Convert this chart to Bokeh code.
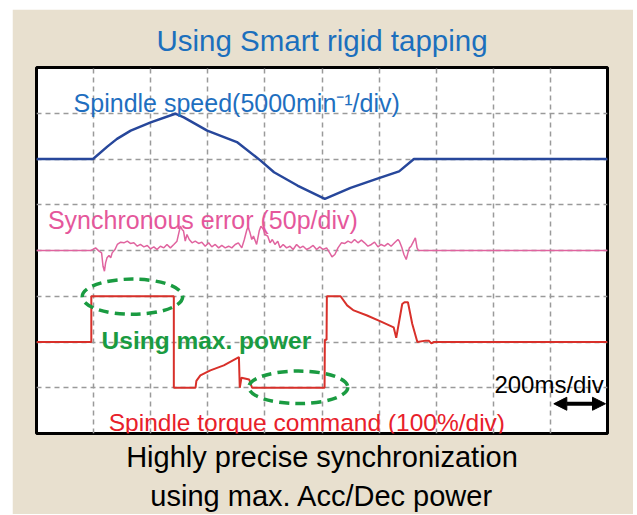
from bokeh.plotting import figure
from bokeh.models import Range1d, FixedTicker, Label, Arrow, NormalHead, Title
from bokeh.embed import file_html
from bokeh.resources import INLINE

# ---- data (time in ms, 200 ms/div) ----
speed_t = [0, 198, 248, 282, 330, 400, 486, 516, 598, 702, 784, 832, 914, 1010, 1100, 1194, 1270, 1322, 2000]
speed_v = [0, 0, 1350, 2200, 3100, 4000, 4950, 4550, 3100, 1850, -150, -1450, -2900, -4350, -3150, -2150, -1350, 0, 0]  # min^-1

err_t = [0, 190, 198, 207, 219, 228, 233, 238, 242, 247, 254, 260, 265, 275, 283, 295, 306, 318, 329, 341,
         353, 364, 376, 388, 399, 411, 422, 434, 446, 457, 469, 481, 492, 504, 510, 515, 521, 527, 535, 545,
         556, 568, 579, 591, 603, 614, 626, 638, 649, 661, 673, 684, 696, 707, 719, 728, 737, 742, 748, 754,
         760, 771, 780, 786, 795, 800, 810, 818, 826, 835, 845, 853, 864, 876, 888, 899, 911, 923, 934, 946,
         957, 969, 981, 992, 1004, 1016, 1027, 1035, 1045, 1056, 1068, 1080, 1091, 1103, 1114, 1126, 1138, 1149, 1161, 1173,
         1184, 1196, 1207, 1219, 1231, 1242, 1254, 1266, 1271, 1280, 1287, 1295, 1301, 1306, 1312, 1321, 1327, 1333, 1338, 2000]
err_v = [0, 0, 1.1, 2.9, -0.7, -2.6, -17.2, -22.6, -13.5, -8.0, -5.5, -8.0, -2.6, 1.1, 6.6, 9.1, 8.4, 10.2, 7.7, 8.4,
         4.7, 6.6, 4.0, 5.5, 1.8, 4.0, 1.1, 4.7, 2.9, 6.6, 2.9, 6.6, 10.2, 26.6, 23.0, 21.2, 10.2, 17.5, 12.0, 8.4,
         10.2, 7.7, 9.1, 4.7, 8.4, 4.0, 6.6, 2.9, 5.5, 2.9, 4.7, 2.9, 6.6, 8.4, 2.9, 12.0, 23.0, 24.8, 19.3, 12.0,
         15.7, 6.6, 21.2, 26.6, 23.0, 17.5, 15.7, 8.4, 12.0, 6.6, 10.2, 2.9, 6.6, 2.9, 4.7, 1.1, 6.6, 2.9, 4.7, 1.1,
         2.9, 5.5, 1.1, 4.0, 1.1, 2.9, -2.6, -6.9, -4.4, 2.9, 8.4, 7.7, 10.2, 8.4, 12.0, 8.4, 11.3, 8.4, 4.7, 6.6,
         9.1, 4.0, 6.6, 4.7, 7.7, 4.7, 8.4, 12.0, 10.2, 2.9, -4.4, -9.9, -2.6, 2.9, 4.7, 10.2, 13.9, 2.9, 0, 0]  # pulses

torque_t = [0, 192, 192, 481, 481, 557, 560, 574, 609, 656, 709, 712, 718, 745, 755, 1009, 1010, 1016, 1017, 1065,
            1088, 1111, 1158, 1205, 1251, 1260, 1281, 1289, 1301, 1316, 1334, 1363, 1374, 1383, 1392, 2000]
torque_v = [0, 0, 100, 100, -100, -100, -85, -73, -62, -51, -33, -100, -78, -82, -100, -100, 5, 5, 100, 100,
            80, 69, 58, 45, 32, 9, 83, 87, 87, 40, 0, 3, 3, -3, 0, 0]  # %

# highlighted regions (torque axis)
hl_t = [336, 917]
hl_v = [99, -99]
hl_w = [352, 347]
hl_h = [77, 71]

title_text = "Using Smart rigid tapping"
speed_label = "Spindle speed(5000min\u207b\u00b9/div)"
err_label = "Synchronous error (50p/div)"
power_label = "Using max. power"
torque_label = "Spindle torque command (100%/div)"
scale_label = "200ms/div"
caption1 = "Highly precise synchronization"
caption2 = "using max. Acc/Dec power"

FONT = "Liberation Sans"
BEIGE = "#e8e0cf"

p = figure(width=621, height=505, output_backend="svg", toolbar_location=None, title=None,
           x_range=Range1d(0, 2000), y_range=Range1d(0, 8),
           x_axis_location=None, y_axis_location=None,
           min_border_left=24, min_border_right=26, min_border_top=58, min_border_bottom=81,
           border_fill_color=BEIGE, background_fill_color="white",
           outline_line_color="black", outline_line_width=3)
p.margin = (9, 0, 0, 12)

p.extra_y_ranges = {"speed": Range1d(-30000, 10000),
                    "err": Range1d(-200, 200),
                    "torque": Range1d(-200, 600)}

p.xgrid.ticker = FixedTicker(ticks=[200 * i for i in range(1, 10)])
p.ygrid.ticker = FixedTicker(ticks=list(range(1, 8)))
for g in (p.xgrid, p.ygrid):
    g.grid_line_color = "#9a9a9a"
    g.grid_line_width = 1.5
    g.grid_line_dash = "5 4"

p.line(speed_t, speed_v, y_range_name="speed", line_color="#27479b", line_width=2.5)
p.line(err_t, err_v, y_range_name="err", line_color="#e0649f", line_width=1.5)
p.line(torque_t, torque_v, y_range_name="torque", line_color="#d8302a", line_width=2)
p.ellipse(x=hl_t, y=hl_v, width=hl_w, height=hl_h, y_range_name="torque",
          fill_color=None, line_color="#1a9b41", line_width=3.5, line_dash="10 6")

def lab(text, x, y, size, color, align="left", bold=False):
    p.add_layout(Label(x=x, y=y, text=text, text_font=FONT, text_font_size=f"{size}px",
                       text_color=color, text_align=align, text_baseline="alphabetic",
                       text_font_style="bold" if bold else "normal"))

lab(speed_label, 130, 7.22, 25, "#1f6fc0")
lab(err_label, 40, 4.67, 25, "#e5579b")
lab(power_label, 228, 2.03, 24.5, "#1a9b41", bold=True)
lab(torque_label, 253, 0.24, 24.5, "#e8202a")
lab(scale_label, 1987, 1.07, 24, "black", "right")

p.add_layout(Title(text=title_text, align="center", text_font=FONT, text_font_size="29.5px",
                   text_font_style="normal", text_color="#1b6fbd", standoff=22), "above")
p.add_layout(Title(text=caption1, align="center", text_font=FONT, text_font_size="29px",
                   text_font_style="normal", text_color="black", standoff=10), "below")
p.add_layout(Title(text=caption2, align="center", text_font=FONT, text_font_size="29px",
                   text_font_style="normal", text_color="black", standoff=0), "below")

p.add_layout(Arrow(x_start=1812, y_start=0.65, x_end=1993, y_end=0.65, line_width=4, line_color="black",
                   start=NormalHead(size=13, fill_color="black", line_color="black"),
                   end=NormalHead(size=13, fill_color="black", line_color="black")))

open("out.html", "w").write(file_html(p, INLINE))
